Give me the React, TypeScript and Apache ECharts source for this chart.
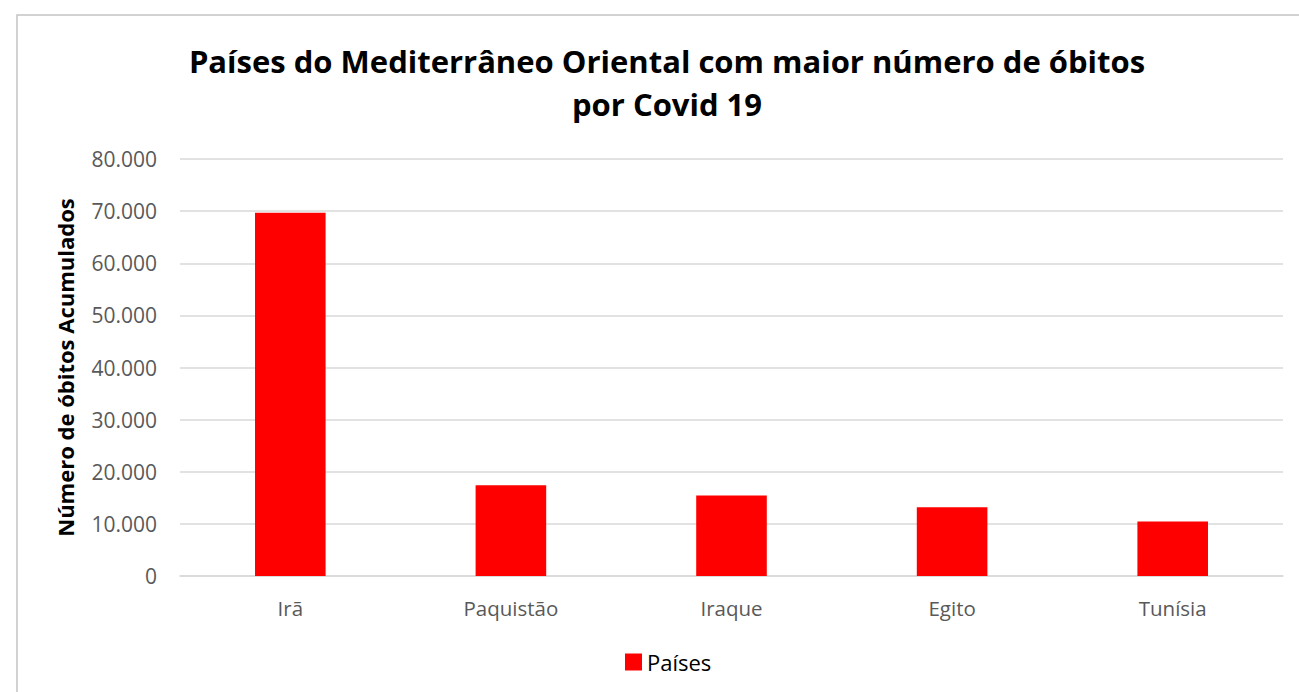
import React, { useEffect, useRef } from "react";
import * as echarts from "echarts";

const categories = ["Irã", "Paquistão", "Iraque", "Egito", "Tunísia"];
const deaths = [69700, 17400, 15450, 13200, 10450];
const yTicks = { min: 0, max: 80000, interval: 10000 };
const titleText = "Países do Mediterrâneo Oriental com maior número de óbitos\npor Covid 19";
const yName = "Número de óbitos Acumulados";
const seriesName = "Países";

const FONT = "'Open Sans', 'Noto Sans', sans-serif";

export default function App() {
  const ref = useRef<HTMLDivElement>(null);
  useEffect(() => {
    document.body.style.margin = "0";
    const chart = echarts.init(ref.current!, undefined, { renderer: "svg" });
    chart.setOption({
      animation: false,
      backgroundColor: "#ffffff",
      textStyle: { fontFamily: FONT },
      title: {
        text: titleText,
        left: 662,
        textAlign: "center",
        top: 34,
        textStyle: {
          fontFamily: FONT,
          fontWeight: "bold",
          fontSize: 31,
          lineHeight: 43,
          color: "#000000",
        },
      },
      graphic: [
        {
          type: "rect",
          shape: { x: 17, y: 15, width: 1320, height: 720 },
          style: { fill: "none", stroke: "#c4c4c4", lineWidth: 1.5 },
          silent: true,
        },
      ],
      legend: {
        data: [seriesName],
        left: 620,
        top: 646,
        icon: "rect",
        itemWidth: 17,
        itemHeight: 17,
        itemGap: 6,
        textStyle: { fontFamily: FONT, fontSize: 22, color: "#000000" },
      },
      grid: { left: 180, right: 16, top: 159, bottom: 116, containLabel: false },
      xAxis: {
        type: "category",
        data: categories,
        axisLine: { lineStyle: { color: "#d9d9d9", width: 1.5 } },
        axisTick: { show: false },
        axisLabel: { color: "#595959", fontSize: 20.5, fontFamily: FONT, margin: 21 },
      },
      yAxis: {
        type: "value",
        min: yTicks.min,
        max: yTicks.max,
        interval: yTicks.interval,
        name: yName,
        nameLocation: "middle",
        nameGap: 104,
        nameTextStyle: { fontFamily: FONT, fontWeight: "bold", fontSize: 22, color: "#000000" },
        axisLine: { show: false },
        axisTick: { show: false },
        splitLine: { lineStyle: { color: "#d9d9d9", width: 1.5 } },
        axisLabel: {
          color: "#595959",
          fontSize: 21,
          fontFamily: FONT,
          margin: 23,
          formatter: (v: number) => v.toLocaleString("de-DE"),
        },
      },
      series: [
        {
          name: seriesName,
          type: "bar",
          data: deaths,
          barWidth: "32%",
          itemStyle: { color: "#ff0000" },
        },
      ],
    });
    return () => chart.dispose();
  }, []);
  return <div ref={ref} style={{ width: 1299, height: 692 }} />;
}
